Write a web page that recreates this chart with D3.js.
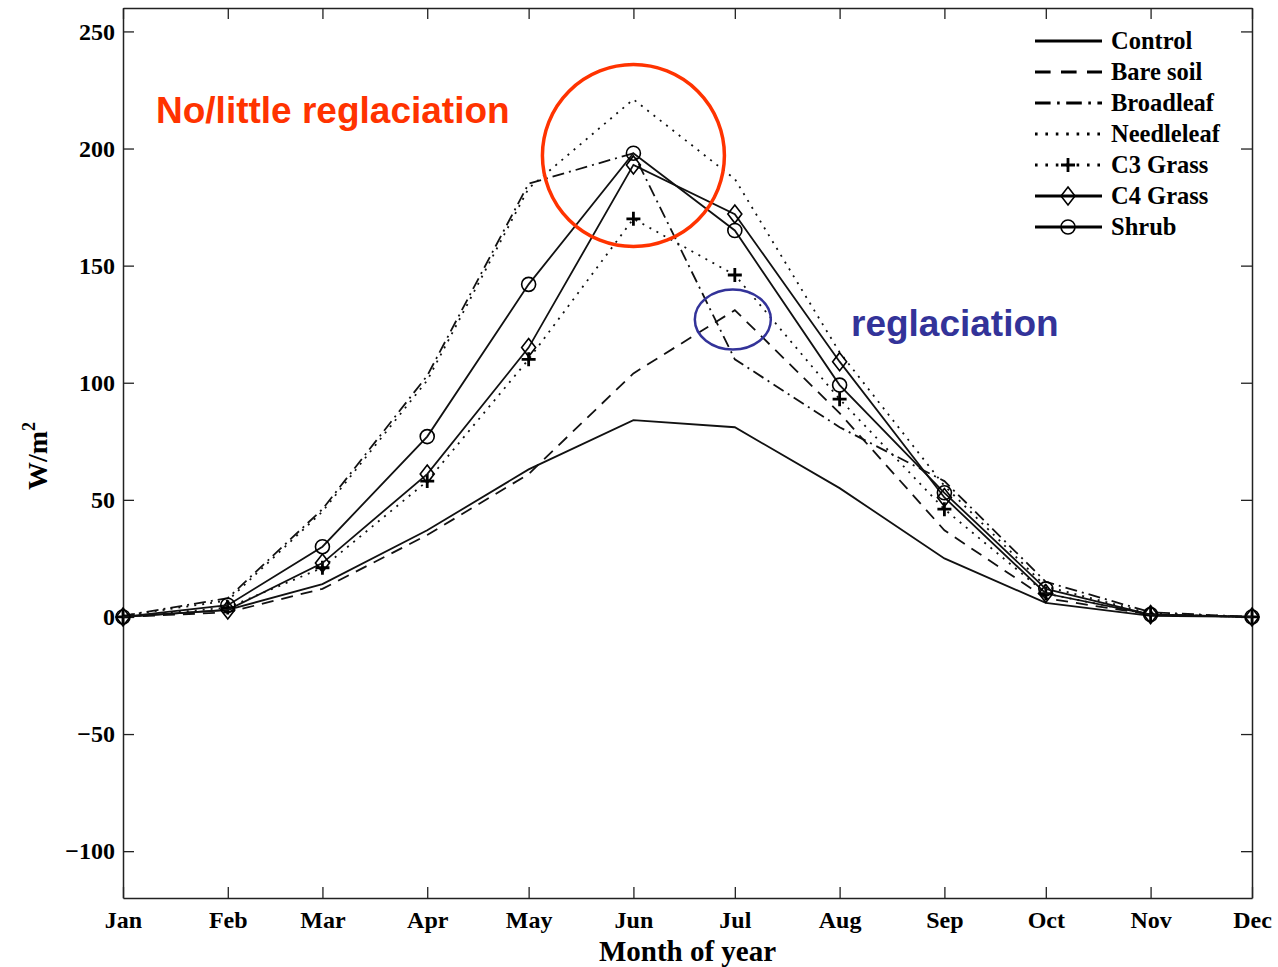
<!DOCTYPE html>
<html>
<head>
<meta charset="utf-8">
<script src="https://cdn.jsdelivr.net/npm/d3@7"></script>
<style>
  body { margin: 0; background: #fff; }
  text { font-family: "Liberation Serif", "Times New Roman", serif; font-weight: bold; }
</style>
</head>
<body>
<script>
// chart data
const months = ["Jan", "Feb", "Mar", "Apr", "May", "Jun", "Jul", "Aug", "Sep", "Oct", "Nov", "Dec"];
const monthDay = [0, 31, 59, 90, 120, 151, 181, 212, 243, 273, 304, 334];
const yTicks = [-100, -50, 0, 50, 100, 150, 200, 250];

const control    = [0, 3, 14, 37, 63, 84, 81, 55, 25, 6, 0.5, 0];
const bareSoil   = [0, 2, 12, 35, 61, 104, 131, 87, 37, 8, 1, 0];
const broadleaf  = [0.5, 8, 46, 103, 185, 198, 110, 81, 58, 15, 2, 0];
const needleleaf = [0.5, 7, 45, 101, 183, 221, 187, 113, 56, 13, 1.5, 0];
const c3Grass    = [0, 4, 21, 58, 110, 170, 146, 93, 46, 10, 1, 0];
const c4Grass    = [0, 3, 23, 61, 115, 193, 172, 109, 51, 10, 1, 0];
const shrub      = [0, 5, 30, 77, 142, 198, 165, 99, 53, 12, 1, 0];

const w = 1278;
const h = 967;
const plotLeft = 123, plotRight = 1252, plotTop = 8, plotBottom = 898;

let series = [
  { name: "Control",    values: control,    dash: null,            marker: null },
  { name: "Bare soil",  values: bareSoil,   dash: "12,8",          marker: null },
  { name: "Broadleaf",  values: broadleaf,  dash: "12,5,2,5",      marker: null },
  { name: "Needleleaf", values: needleleaf, dash: "2,6",           marker: null },
  { name: "C3 Grass",   values: c3Grass,    dash: "2,6",           marker: "plus" },
  { name: "C4 Grass",   values: c4Grass,    dash: null,            marker: "diamond" },
  { name: "Shrub",      values: shrub,      dash: null,            marker: "circle" }
];

let svg = d3.select("body")
            .append("svg")
            .attr("width", w)
            .attr("height", h);

let x = d3.scaleLinear().domain([0, 334]).range([plotLeft, plotRight]);
let y = d3.scaleLinear().domain([-120, 260]).range([plotBottom, plotTop]);

// axes box with inward ticks
let axisColor = "#222";
svg.append("g")
   .attr("transform", "translate(" + plotLeft + ",0)")
   .call(d3.axisLeft(y).tickValues(yTicks).tickSizeInner(-11).tickSizeOuter(0)
           .tickFormat(d => d < 0 ? "\u2212" + Math.abs(d) : d))
   .call(g => g.selectAll("text").attr("x", -8).style("font-size", "24px").attr("fill", "#000"));
svg.append("g")
   .attr("transform", "translate(" + plotRight + ",0)")
   .call(d3.axisRight(y).tickValues(yTicks).tickSizeInner(-11).tickSizeOuter(0).tickFormat(""));
svg.append("g")
   .attr("transform", "translate(0," + plotBottom + ")")
   .call(d3.axisBottom(x).tickValues(monthDay).tickSizeInner(-11).tickSizeOuter(0)
           .tickFormat((d, i) => months[i]))
   .call(g => g.selectAll("text").attr("y", 13).attr("dy", "0.71em").style("font-size", "24px").attr("fill", "#000"));
svg.append("g")
   .attr("transform", "translate(0," + plotTop + ")")
   .call(d3.axisTop(x).tickValues(monthDay).tickSizeInner(-11).tickSizeOuter(0).tickFormat(""));
svg.selectAll(".domain").attr("stroke", axisColor).attr("stroke-width", 1.5);
svg.selectAll(".tick line").attr("stroke", axisColor).attr("stroke-width", 1.3);

// axis titles
svg.append("text")
   .attr("x", (plotLeft + plotRight) / 2)
   .attr("y", 961)
   .attr("text-anchor", "middle")
   .style("font-size", "29px")
   .text("Month of year");

let ylab = svg.append("text")
   .attr("transform", "translate(47,490) rotate(-90)")
   .style("font-size", "28px");
ylab.append("tspan").text("W/m");
ylab.append("tspan").attr("dy", -12).style("font-size", "18px").text("2");

let line = d3.line()
             .x((d, i) => x(monthDay[i]))
             .y(d => y(d));

function drawMarker(g, type, cx, cy) {
  if (type === "circle") {
    g.append("circle").attr("cx", cx).attr("cy", cy).attr("r", 7)
     .attr("fill", "none").attr("stroke", "#000").attr("stroke-width", 1.6);
  } else if (type === "diamond") {
    g.append("path")
     .attr("d", "M" + cx + "," + (cy - 9) + "L" + (cx + 7) + "," + cy + "L" + cx + "," + (cy + 9) + "L" + (cx - 7) + "," + cy + "Z")
     .attr("fill", "none").attr("stroke", "#000").attr("stroke-width", 1.6);
  } else if (type === "plus") {
    g.append("path")
     .attr("d", "M" + (cx - 7) + "," + cy + "H" + (cx + 7) + "M" + cx + "," + (cy - 7) + "V" + (cy + 7))
     .attr("stroke", "#000").attr("stroke-width", 2.8);
  }
}

let plot = svg.append("g");
series.forEach(s => {
  plot.append("path")
      .datum(s.values)
      .attr("d", line)
      .attr("fill", "none")
      .attr("stroke", "#111")
      .attr("stroke-width", 1.8)
      .attr("stroke-dasharray", s.dash);
  if (s.marker) {
    let mg = plot.append("g");
    s.values.forEach((v, i) => drawMarker(mg, s.marker, x(monthDay[i]), y(v)));
  }
});

// legend
let legend = svg.append("g");
series.forEach((s, i) => {
  let ly = 41 + i * 31;
  legend.append("line")
        .attr("x1", 1035).attr("x2", 1102)
        .attr("y1", ly).attr("y2", ly)
        .attr("stroke", "#000")
        .attr("stroke-width", 3)
        .attr("stroke-dasharray", s.dash ? s.dash.split(",").map(v => +v * 1.3).join(",") : null);
  if (s.marker) drawMarker(legend, s.marker, 1068, ly);
  legend.append("text")
        .attr("x", 1111).attr("y", ly + 8)
        .style("font-size", "24.5px")
        .text(s.name);
});

// annotations
svg.append("text")
   .attr("x", 156).attr("y", 123)
   .style("font-family", "'Liberation Sans', Arial, sans-serif")
   .style("font-size", "37px")
   .attr("fill", "#FF3300")
   .text("No/little reglaciation");
svg.append("text")
   .attr("x", 851).attr("y", 336)
   .style("font-family", "'Liberation Sans', Arial, sans-serif")
   .style("font-size", "37px")
   .attr("fill", "#333399")
   .text("reglaciation");
svg.append("circle")
   .attr("cx", x(151)).attr("cy", y(197))
   .attr("r", 91)
   .attr("fill", "none")
   .attr("stroke", "#FF3300")
   .attr("stroke-width", 3.5);
svg.append("ellipse")
   .attr("cx", x(181) - 2).attr("cy", y(127))
   .attr("rx", 38).attr("ry", 30)
   .attr("fill", "none")
   .attr("stroke", "#333399")
   .attr("stroke-width", 2.5);
</script>
</body>
</html>
